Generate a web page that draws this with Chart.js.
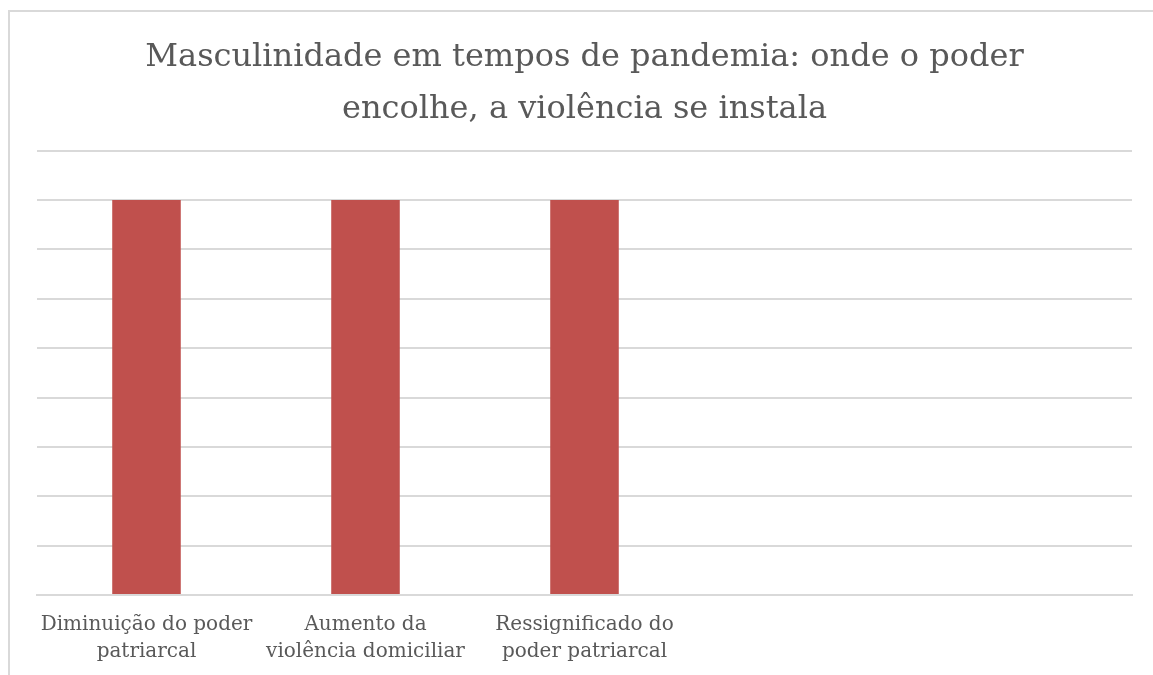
<!DOCTYPE html>
<html>
<head>
<meta charset="utf-8">
<script src="https://cdn.jsdelivr.net/npm/chart.js@4/dist/chart.umd.min.js"></script>
<style>
  html, body { margin: 0; padding: 0; background: #fff; }
  body { width: 1153px; height: 675px; position: relative; overflow: hidden; }
  /* chart frame: only left and top edges show */
  #frame {
    position: absolute; left: 8px; top: 10px; width: 1200px; height: 700px;
    border-left: 2px solid #d9d9d9; border-top: 2px solid #d9d9d9;
  }
  /* canvas runs a little past the bottom edge, like the cropped frame */
  #chart { position: absolute; left: 0; top: 0; }
</style>
</head>
<body>
<div id="frame"></div>
<canvas id="chart" width="1153" height="681"></canvas>
<script>
// ================= DATA =================
const categories = [
  ["Diminuição do poder", "patriarcal"],
  ["Aumento da", "violência domiciliar"],
  ["Ressignificado do", "poder patriarcal"],
  "",
  ""
];
const values = [4, 4, 4, null, null];
const titleLines = [
  "Masculinidade em tempos de pandemia: onde o poder",
  "encolhe, a violência se instala"
];
const yMin = 0;
const yMax = 4.5;
const yStep = 0.5;

const serif = "'DejaVu Serif', 'Liberation Serif', serif";
const textColor = "#595959";
const gridColor = "#d9d9d9";

// ================= CHART =================
const ctx = document.getElementById("chart");

let chart = new Chart(ctx, {
  type: "bar",
  data: {
    labels: categories,
    datasets: [{
      data: values,
      backgroundColor: "#c0504d",
      borderWidth: 0,
      barPercentage: 0.313,
      categoryPercentage: 1
    }]
  },
  options: {
    responsive: false,
    animation: false,
    layout: {
      padding: { left: 37, right: 21, top: 0, bottom: 0 }
    },
    plugins: {
      legend: { display: false },
      tooltip: { enabled: false },
      title: {
        display: true,
        text: titleLines,
        color: textColor,
        font: { family: serif, size: 32, weight: "normal", lineHeight: 1.62 },
        padding: { top: 32, bottom: 15 }
      }
    },
    scales: {
      x: {
        grid: { display: false, drawTicks: false },
        border: { display: true, color: gridColor, width: 2 },
        ticks: {
          color: textColor,
          font: { family: serif, size: 20, lineHeight: 1.35 },
          maxRotation: 0,
          autoSkip: false,
          padding: 16
        }
      },
      y: {
        min: yMin,
        max: yMax,
        border: { display: false },
        grid: { color: gridColor, lineWidth: 2, drawTicks: false },
        ticks: { display: false, stepSize: yStep }
      }
    }
  }
});
</script>
</body>
</html>
